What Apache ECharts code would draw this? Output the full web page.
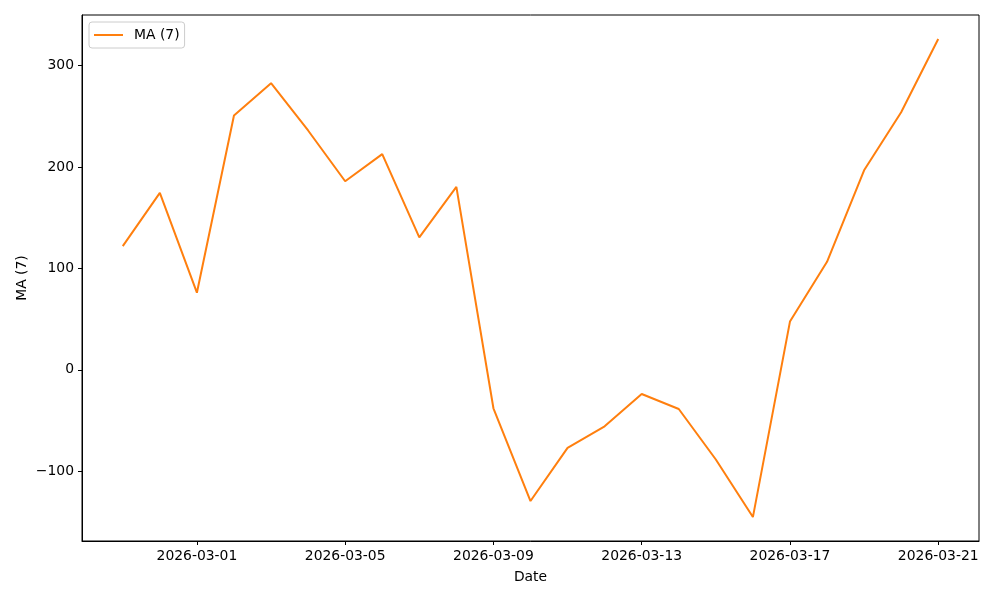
<!DOCTYPE html>
<html>
<head>
<meta charset="utf-8">
<script src="https://cdn.jsdelivr.net/npm/echarts@6/dist/echarts.min.js"></script>
<style>html,body{margin:0;padding:0;background:#fff}#c{width:1000px;height:600px}</style>
</head>
<body>
<div id="c"></div>
<script>
const dates = ["2026-02-27","2026-02-28","2026-03-01","2026-03-02","2026-03-03","2026-03-04","2026-03-05","2026-03-06","2026-03-07","2026-03-08","2026-03-09","2026-03-10","2026-03-11","2026-03-12","2026-03-13","2026-03-14","2026-03-15","2026-03-16","2026-03-17","2026-03-18","2026-03-19","2026-03-20","2026-03-21"];
const maValues = [122, 174.4, 76, 250.8, 282.6, 236, 185.9, 212.7, 130.5, 180.3, -38, -129.5, -77, -55.8, -23.9, -38.7, -88.5, -145.3, 47.5, 106.5, 196.7, 254, 326.3];
const xTickDates = ["2026-03-01","2026-03-05","2026-03-09","2026-03-13","2026-03-17","2026-03-21"];
const yTicks = [-100, 0, 100, 200, 300];
const seriesName = "MA (7)";

const font = "DejaVu Sans";
const fs = 13.9;
const xTickIdx = xTickDates.map(d => dates.indexOf(d));
const chart = echarts.init(document.getElementById('c'), null, {renderer: 'canvas'});
chart.setOption({
  animation: false,
  backgroundColor: '#fff',
  grid: {left: 82, right: 21, top: 15, bottom: 59, show: true, borderColor: '#000', borderWidth: 1, backgroundColor: 'transparent', containLabel: false},
  legend: {
    left: 89, top: 22, padding: [6, 5, 6, 5],
    backgroundColor: 'rgba(255,255,255,0.8)', borderColor: '#cccccc', borderWidth: 1, borderRadius: 3,
    icon: 'rect', itemWidth: 29, itemHeight: 2,
    textStyle: {fontFamily: font, fontSize: fs, color: '#000', padding: [0, 0, 0, 6]},
    data: [{name: seriesName}]
  },
  xAxis: {
    type: 'value', min: -1.1, max: dates.length - 1 + 1.1,
    name: 'Date', nameLocation: 'middle', nameGap: 29, nameMoveOverlap: false,
    nameTextStyle: {fontFamily: font, fontSize: fs, color: '#000'},
    splitLine: {show: false},
    axisLine: {show: true, onZero: false, lineStyle: {color: '#000', width: 1}},
    axisTick: {show: true, inside: false, length: 4, lineStyle: {color: '#000'}, customValues: xTickIdx},
    axisLabel: {fontFamily: font, fontSize: fs, color: '#000', margin: 8, customValues: xTickIdx,
      formatter: v => dates[Math.round(v)] || ''}
  },
  yAxis: {
    type: 'value', min: -168.9, max: 349.9,
    name: 'MA (7)', nameLocation: 'middle', nameGap: 53, nameRotate: 90, nameMoveOverlap: false,
    nameTextStyle: {fontFamily: font, fontSize: fs, color: '#000'},
    splitLine: {show: false},
    axisLine: {show: true, onZero: false, lineStyle: {color: '#000', width: 1}},
    axisTick: {show: true, inside: false, length: 4, lineStyle: {color: '#000'}, customValues: yTicks},
    axisLabel: {fontFamily: font, fontSize: fs, color: '#000', margin: 8, customValues: yTicks,
      formatter: v => v < 0 ? '\u2212' + Math.abs(v) : String(v)}
  },
  series: [{
    name: seriesName, type: 'line', symbol: 'none',
    data: maValues.map((v, i) => [i, v]),
    lineStyle: {color: '#ff7f0e', width: 2},
    itemStyle: {color: '#ff7f0e'}
  }]
});
</script>
</body>
</html>
